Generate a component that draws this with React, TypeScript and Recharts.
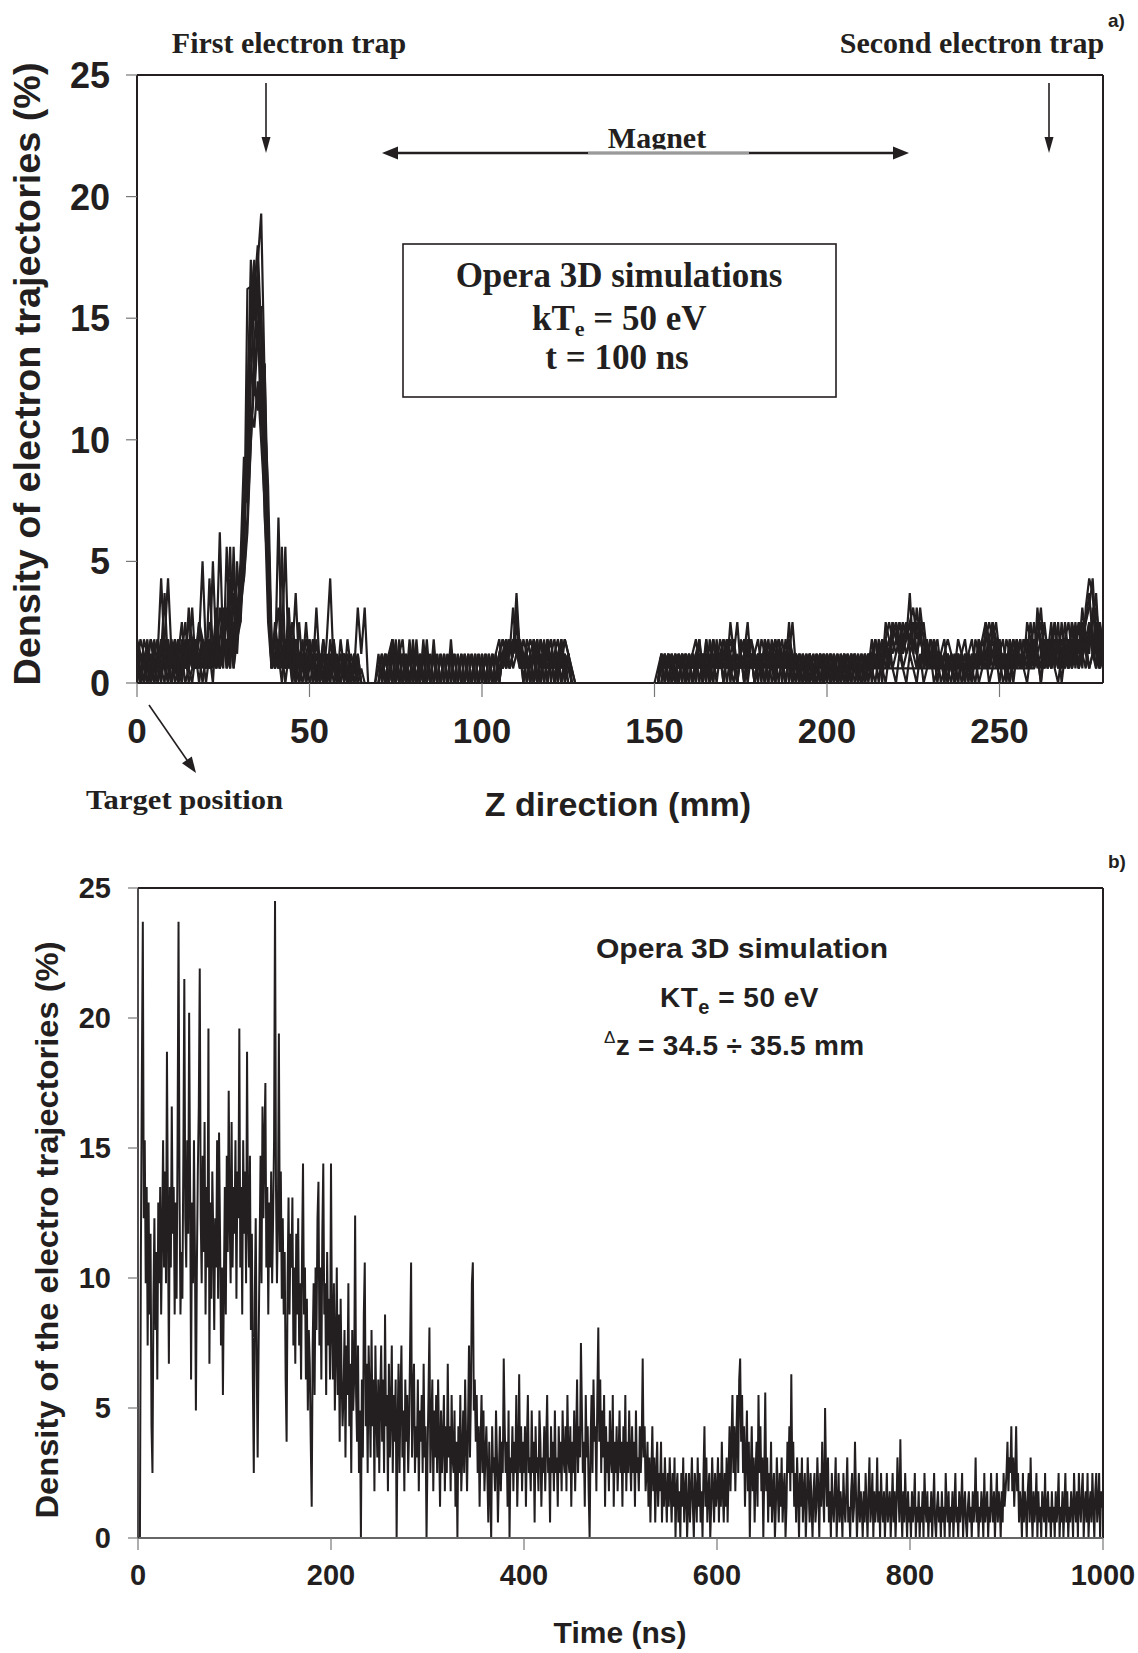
import React from 'react';
import { LineChart, Line, XAxis, YAxis, ReferenceLine } from 'recharts';

// ---------- Panel a: density vs Z (mm), several overlapping trajectory sets ----------
const zTicks = [0, 50, 100, 150, 200, 250];
const densityTicks = [0, 5, 10, 15, 20, 25];
const Z_STEP_MM = 1; // samples every 1 mm from 0 to 280 mm

const trace1 = [
  0,1.2,0.6,1.8,0,0.6,1.2,4.3,1.2,0.6,0,1.8,0.6,1.2,0,0.6,1.8,0.6,1.2,0.6,
  1.8,0.6,5.0,1.2,0.6,2.5,1.2,1.8,3.1,2.5,3.7,4.3,6.8,9.9,13.6,17.3,19.3,12.4,5.6,1.8,
  0.6,6.8,1.2,1.8,0.6,2.5,1.2,0.6,1.8,0,0.6,1.2,0.6,0,1.8,0.6,0,1.2,0.6,0,
  0.6,1.2,0,0.6,0,0,0,0,0,0,0,0.6,1.2,0,1.2,0,1.2,1.8,0,1.2,
  0,1.2,0,1.2,0,0,1.2,0,0,1.2,0,0,1.2,0,0,1.2,0,0,1.2,0,
  0,1.2,0,0,1.2,0,1.2,0.6,1.8,1.2,3.7,1.2,0.6,1.2,0,1.8,0,1.2,0,1.2,
  0.6,1.2,0,1.8,0.6,0,0,0,0,0,0,0,0,0,0,0,0,0,0,0,
  0,0,0,0,0,0,0,0,0,0,0,0,1.2,0,1.2,0.6,0,1.2,0,1.2,
  0.6,1.2,0,1.8,0.6,1.2,0,1.2,0.6,1.8,1.2,0.6,2.5,1.2,0.6,1.2,0,1.8,0.6,1.2,
  0,1.2,0.6,1.8,0.6,1.2,0,1.2,0.6,2.5,0.6,1.2,0.6,0,1.2,0.6,0,1.2,0.6,1.2,
  0.6,1.2,0,1.2,0.6,0,1.2,0.6,1.2,0,0.6,1.2,0.6,1.8,0.6,1.2,0,1.8,1.2,1.8,
  1.2,1.8,2.5,1.8,3.7,1.2,0.6,3.1,1.8,0.6,1.2,0.6,1.2,0,0.6,1.2,0.6,0,1.2,0.6,
  1.2,0.6,0,1.2,0.6,1.2,0.6,1.8,1.2,0.6,1.2,0,0.6,1.8,0.6,1.2,0.6,1.2,1.8,0.6,
  1.2,1.8,3.1,1.2,0.6,1.8,1.2,0.6,2.5,1.2,0.6,1.8,1.2,2.5,0.6,3.1,4.3,3.7,1.2,0.6,1.8,
];
const trace2 = [
  1.2,0.6,0,1.2,1.8,0.6,0,1.2,3.7,0.6,1.2,0,0.6,1.2,2.5,0.6,0,1.2,0.6,1.8,
  0.6,1.2,0,2.5,1.2,0.6,5.6,1.8,0.6,2.5,5.0,9.3,7.4,12.4,16.1,18.0,14.3,9.3,3.7,0.6,
  1.2,0.6,5.6,0.6,1.8,1.2,0,2.5,0.6,1.2,0,0.6,3.1,0.6,0,1.2,0.6,1.8,0,0.6,
  1.2,0,0.6,0,1.2,0,0,0,0,0,1.2,0,1.2,0,1.8,1.2,0,1.2,0,1.2,
  1.2,0,1.2,0,1.8,0,0,1.2,0,0,1.2,0,0,1.2,0,0,1.2,0,0,1.2,
  0,0,1.2,0,0,1.2,1.8,1.2,0.6,1.2,2.5,0.6,1.2,0,1.2,0,1.2,0,1.8,0,
  1.2,0,1.2,0,1.2,0.6,0,0,0,0,0,0,0,0,0,0,0,0,0,0,
  0,0,0,0,0,0,0,0,0,0,0,0,0.6,1.2,0,1.2,0,1.2,0.6,1.2,
  0,1.2,0.6,1.2,0,1.8,0.6,1.2,0,1.2,0.6,1.8,0,1.2,0.6,1.2,1.8,0.6,1.2,0,
  1.2,0.6,1.8,0,1.2,1.8,0.6,1.2,0,1.2,2.5,0.6,1.2,0,0.6,1.2,0,0.6,1.2,0,
  1.2,0.6,0,1.2,0.6,1.2,0,0.6,1.2,0.6,0,1.2,0.6,1.2,1.8,0.6,1.2,1.8,2.5,1.8,
  2.5,1.2,1.8,2.5,1.2,1.8,1.2,0.6,1.2,1.8,0.6,1.2,0,1.2,0.6,0,1.2,0.6,1.2,0,
  0.6,1.2,0.6,0,1.2,1.8,2.5,0.6,1.2,1.8,0.6,1.2,0,1.2,0.6,1.8,0.6,1.2,0.6,1.8,
  0.6,3.1,1.2,0.6,1.8,0.6,1.2,2.5,0.6,1.2,1.8,0.6,2.5,1.2,1.8,2.5,3.7,1.8,0.6,1.2,0.6,
];
const trace3 = [
  0.6,1.8,1.2,0,0.6,1.2,1.8,0.6,0,1.8,0.6,1.2,0,1.8,0.6,1.2,3.1,0.6,1.8,5.0,
  1.2,1.8,0.6,1.2,6.2,1.2,1.8,0.6,5.6,1.2,3.7,6.2,11.2,17.4,14.9,16.7,11.8,6.8,4.3,0.6,
  2.5,1.2,1.8,5.6,0.6,1.2,3.7,0.6,1.2,0,1.8,0.6,1.2,0.6,0,1.8,4.3,0.6,1.2,0,
  0,1.8,0.6,0,0,0,0,0,0,0,0,0,0,1.2,0,1.2,0,1.2,0,1.8,
  0,1.2,0,1.2,0,1.2,0,0,1.2,0,0,1.2,0,0,1.2,0,0,1.2,0,0,
  1.2,0,0,1.2,0,1.2,0.6,1.2,1.8,0.6,1.2,1.8,0,1.2,1.8,1.2,0,1.2,0.6,1.8,
  0,1.2,1.8,0.6,1.2,0,0,0,0,0,0,0,0,0,0,0,0,0,0,0,
  0,0,0,0,0,0,0,0,0,0,0,0,1.2,0,1.2,0.6,1.2,0,1.2,0.6,
  1.2,0,1.2,0.6,1.2,0.6,0,1.8,1.2,0.6,1.8,1.2,0.6,1.2,0,1.8,1.2,2.5,0.6,1.2,
  0.6,1.2,0,1.2,0.6,1.8,1.2,0.6,1.8,0.6,1.2,0,1.2,0.6,1.2,0,1.2,0.6,0,1.2,
  0,1.2,0.6,0,1.2,0.6,1.2,0,1.2,0.6,1.2,0,1.2,0.6,1.2,0.6,1.8,1.2,0.6,2.5,
  1.8,2.5,1.2,1.8,2.5,1.2,3.1,1.8,1.2,0.6,1.8,1.2,0.6,1.2,1.8,0.6,0,1.2,0.6,1.2,
  0,1.2,0.6,1.2,0.6,1.8,1.2,0.6,2.5,1.2,1.8,0.6,1.2,0.6,1.8,1.2,0.6,1.8,1.2,1.2,
  1.8,1.2,0.6,2.5,1.2,0.6,1.8,1.2,0.6,1.8,2.5,1.2,1.8,0.6,2.5,1.8,1.2,3.1,1.8,1.2,2.5,
];
const trace4 = [
  1.8,0,1.2,0.6,0,1.8,0.6,1.2,1.8,4.3,1.2,0.6,1.2,0,1.8,0.6,1.2,0.6,2.5,1.2,
  0.6,4.3,1.2,0.6,1.8,3.1,0.6,4.3,1.2,5.0,2.5,5.0,16.2,16.3,12.4,14.9,10.5,13.1,4.3,1.2,
  0.6,1.8,0.6,1.2,3.1,0.6,1.8,1.2,0.6,2.5,0.6,1.8,0,1.2,0.6,0,1.2,0.6,0,1.8,
  0.6,0,1.2,0.6,3.1,1.2,3.1,0,0,0,0.6,1.2,0,1.2,0,1.8,0,1.2,0,1.2,
  0,1.8,0,1.2,0,0,1.2,0,0,1.2,0,0,1.2,0,0,1.2,0,0,1.2,0,
  0,1.2,0,1.2,0,0,1.2,1.8,1.2,3.1,1.2,0.6,1.8,1.2,0,1.2,0,1.2,0,1.2,
  1.8,0,1.2,0.6,1.8,1.2,0,0,0,0,0,0,0,0,0,0,0,0,0,0,
  0,0,0,0,0,0,0,0,0,0,0,0.6,1.2,0.6,1.2,0,1.2,0.6,1.2,0,
  1.2,0.6,1.2,0,1.2,0.6,1.2,0,1.2,0.6,1.2,0.6,1.8,1.2,0.6,1.2,0.6,1.2,1.8,0.6,
  1.2,0,1.8,1.2,0.6,1.2,1.8,0.6,1.2,0,1.2,0.6,1.2,0.6,0,1.2,0.6,1.2,0,0.6,
  1.2,0,1.2,0.6,0,1.2,0.6,0,0.6,1.2,0.6,0,0.6,1.2,0.6,1.8,0.6,1.2,1.8,0.6,
  1.2,1.8,0.6,1.2,1.8,2.5,1.2,0.6,1.8,1.2,0.6,1.8,1.2,0.6,1.2,1.8,1.2,0.6,1.8,1.2,
  0.6,1.2,1.8,0.6,1.2,0.6,1.8,2.5,1.8,2.5,1.2,0.6,1.8,1.2,0.6,1.2,1.8,0.6,1.2,2.5,
  1.2,2.5,1.8,0.6,1.2,2.5,0.6,1.8,1.2,2.5,1.2,0.6,1.8,2.5,1.2,0.6,2.5,1.2,0.6,2.5,1.2,
];
const trace5 = [
  0.6,0,1.2,0.6,1.2,0,0.6,1.8,0.6,0,1.2,0.6,0,0.6,1.2,0,0.6,1.8,0.6,1.2,
  0,1.2,1.8,0.6,1.2,1.8,0.6,1.2,1.8,3.1,3.1,4.3,6.2,9.9,12.4,11.2,13.1,13.1,6.8,1.2,
  1.8,3.1,1.2,0.6,2.5,0.6,0,1.2,0.6,1.8,1.2,0,0.6,1.2,0,0.6,1.2,0,0.6,1.2,
  0,0.6,0,1.2,0,0,0,0,0,0,0,0,1.2,0,1.8,0,1.2,0,1.2,0,
  1.2,0,1.2,0,1.2,0,1.8,0,0,0,1.2,0,0,1.2,0,0,1.2,0,0,1.2,
  0,1.2,0,0,1.2,1.8,0.6,1.2,1.8,1.2,1.8,1.2,0,1.2,0.6,1.2,0,1.8,1.2,0.6,
  1.2,0.6,1.2,1.8,0.6,1.2,0,0,0,0,0,0,0,0,0,0,0,0,0,0,
  0,0,0,0,0,0,0,0,0,0,0,0,0.6,1.2,0,1.2,0.6,0,1.2,0.6,
  0,1.2,0.6,1.2,0,1.2,0.6,1.8,0.6,1.2,0,1.2,0.6,0,1.2,0.6,1.2,0,1.2,0.6,
  1.2,0.6,0,1.2,0.6,0,1.2,0.6,0,1.2,0.6,0,1.2,0.6,0,1.2,0.6,0,1.2,0.6,
  0,1.2,0.6,0,1.2,0.6,0,1.2,0.6,0.6,0.6,0.6,0.6,0.6,0.6,0.6,0.6,0.6,0.6,0.6,
  0.6,0.6,0.6,0.6,0.6,0.6,0.6,0.6,0.6,0.6,0.6,0.6,0.6,0.6,0.6,0.6,0.6,0.6,0.6,0.6,
  0.6,0.6,0.6,0.6,0.6,0.6,0.6,0.6,0.6,0.6,0.6,0.6,0.6,0.6,0.6,0.6,0.6,0.6,0.6,0.6,
  0.6,1.2,0,1.2,0.6,1.8,0.6,0,1.2,0.6,1.8,0.6,1.2,0.6,1.8,1.2,0.6,1.2,2.5,0.6,1.2,
];
const trace6 = [
  0,1.2,0.6,0,1.2,0.6,1.2,0,1.2,0.6,1.8,0.6,1.2,2.5,0.6,3.1,1.2,0.6,1.2,0,
  1.2,0.6,1.2,3.1,0.6,1.2,2.5,5.6,0.6,1.8,2.5,7.4,8.7,11.2,10.5,12.4,9.9,7.4,2.5,0.6,
  1.2,0.6,1.2,0,1.2,1.8,0.6,0,1.2,0.6,1.2,0,1.2,0.6,1.8,0,0.6,1.2,0,0.6,
  1.2,0.6,0,0.6,1.2,0,0,0,0,0,0,1.2,0,1.2,1.8,0,1.2,0,1.2,0,
  0,0,1.2,0,1.2,0,0,0,1.2,0,0,1.8,0,0,1.2,0,0,1.2,0,0,
  1.2,0,1.2,0,0,1.2,0.6,1.8,0.6,1.2,1.8,0.6,1.2,0,1.2,0,1.8,0.6,1.2,0,
  1.2,0,0.6,1.2,0.6,1.2,0.6,0,0,0,0,0,0,0,0,0,0,0,0,0,
  0,0,0,0,0,0,0,0,0,0,0,0,1.2,0,1.2,0,1.2,0,1.2,0,
  1.2,0,0.6,1.2,0,1.2,0.6,0,1.8,0.6,1.2,0,1.2,0.6,0,1.2,0,0.6,1.2,0,
  0.6,1.2,0,1.2,0,0.6,1.2,0,1.2,0.6,0,1.2,0.6,0,1.2,0,0.6,1.2,0,1.2,
  0.6,0,1.2,0,0.6,1.2,0,1.2,0,0.6,1.2,0,1.2,0.6,0,1.2,0.6,0,1.2,0.6,
  0,1.2,0.6,0,1.2,0.6,0,1.2,0,0.6,1.2,0,0.6,1.2,0,1.2,0.6,0,1.2,0.6,
  0,1.2,0.6,1.2,0,0.6,1.2,0,0.6,1.2,0,1.2,0.6,0,1.2,0.6,1.8,0.6,0,1.2,
  0.6,1.2,0,1.8,1.2,0.6,1.2,1.8,0,1.2,0.6,1.8,1.2,0.6,1.2,1.8,0.6,1.2,1.8,0.6,1.2,
];
const trace7 = [
  1.2,0,1.8,1.2,0.6,0,1.2,0.6,1.8,1.2,0.6,1.2,1.8,0.6,1.2,2.5,1.8,0.6,1.2,1.8,
  0.6,1.8,1.2,2.5,0.6,1.8,3.1,1.2,2.5,1.8,4.3,7.4,10.5,14.3,16.8,15.5,12.4,10.5,6.8,1.2,
  0.6,1.2,0,1.8,1.2,0.6,1.2,0,0.6,1.2,1.8,0,1.2,0.6,1.2,0,1.8,0.6,0,1.2,
  0.6,1.2,0,0,0.6,0,0,0,0,0,0,0,1.2,0,1.2,0,1.8,0,1.2,0,
  1.8,0,1.2,0,1.2,0,0,1.2,0,0,0,1.2,0,0,1.2,0,0,1.2,0,0,
  1.2,0,0,1.2,0,0.6,1.2,1.8,0.6,1.2,1.8,1.2,0.6,1.2,0,1.2,1.8,0,1.2,0.6,
  1.2,1.8,0.6,1.2,0,1.2,0.6,0,0,0,0,0,0,0,0,0,0,0,0,0,
  0,0,0,0,0,0,0,0,0,0,0,0,0,1.2,0,1.2,0,1.2,0.6,1.2,
  0.6,1.2,1.8,0.6,1.2,0,1.8,0.6,1.2,0.6,1.2,1.8,0.6,1.2,2.5,0.6,1.2,0.6,1.8,1.2,
  0.6,1.8,1.2,0.6,1.2,0,1.2,1.8,0.6,1.2,0,1.2,0.6,1.2,0,1.2,0.6,0,1.2,0.6,
  1.2,0,0.6,1.2,0,0.6,1.2,0,1.2,0.6,0.6,1.2,0,1.2,0.6,1.2,1.8,0.6,1.2,2.5,
  1.8,2.5,1.8,1.2,1.8,1.2,2.5,1.8,1.2,0.6,1.2,1.8,0.6,1.2,0,1.2,0.6,1.2,0,1.2,
  0.6,1.2,0,1.8,1.2,0.6,2.5,1.8,0.6,1.2,1.8,0.6,1.2,0,1.2,1.8,0.6,1.2,0.6,1.2,
  2.5,1.2,1.8,0.6,1.2,1.8,2.5,1.2,1.8,0.6,1.2,2.5,0.6,1.8,1.2,2.5,3.1,4.3,1.8,2.5,1.2,
];
const trace8 = [
  0.6,1.2,0,0.6,1.8,1.2,0,0.6,1.2,0,1.2,1.8,0.6,0,1.2,0.6,1.8,1.2,0,1.2,
  1.8,0.6,1.2,1.8,0.6,2.5,1.2,0.6,3.7,1.8,3.1,5.6,9.3,13.1,11.8,14.3,15.5,8.7,4.3,0.6,
  1.8,0.6,1.2,0.6,1.8,0,1.2,0.6,0,1.2,0.6,1.8,0,0.6,1.2,0,0.6,1.2,0,0.6,
  1.2,0,0.6,1.2,0,0.6,0,0,0,0,0,1.2,0,1.2,0,1.2,0,1.2,0,1.2,
  0,1.2,0,1.8,0,1.2,0,0,1.2,0,0,1.2,0,0,0,1.2,0,0,1.2,0,
  0,1.2,0,1.2,0,1.2,1.8,0.6,1.2,1.8,1.2,1.8,1.2,0.6,1.2,1.8,1.2,0,1.2,1.8,
  0.6,1.2,0,1.2,1.8,1.2,0,0,0,0,0,0,0,0,0,0,0,0,0,0,
  0,0,0,0,0,0,0,0,0,0,0,0,1.2,0.6,1.2,0,1.2,0.6,1.2,0,
  1.2,0.6,1.2,1.8,0,1.2,0.6,1.8,0.6,1.2,1.8,0.6,1.2,1.8,0.6,1.2,0.6,1.8,0.6,1.2,
  1.8,0.6,1.2,0,1.2,0.6,1.8,1.2,0.6,1.8,1.2,0.6,0,1.2,0.6,1.2,0,0.6,1.2,0,
  0.6,1.2,0.6,0,1.2,0,0.6,1.2,0.6,0,1.2,0.6,1.2,0,1.8,1.2,0.6,2.5,1.8,1.2,
  1.8,1.2,2.5,1.8,2.5,3.1,1.8,2.5,0.6,1.2,1.8,0.6,1.2,0.6,1.2,0,1.2,0.6,0,1.2,
  1.8,0.6,1.2,0.6,1.8,0.6,1.2,1.8,2.5,1.8,0.6,1.2,0.6,1.8,0,1.2,0.6,1.8,1.2,0.6,
  1.8,0.6,1.2,1.8,0.6,1.2,1.8,0.6,1.2,1.8,0.6,1.2,1.8,0.6,2.5,1.2,1.8,2.5,3.7,1.2,1.8,
];
const trace9 = [
  1.8,1.2,0.6,1.2,0,1.2,1.8,0.6,1.2,1.8,0,0.6,1.8,1.2,0.6,1.8,0.6,1.2,2.5,1.8,
  1.2,2.5,1.8,0.6,3.1,1.8,1.2,2.5,4.3,3.1,4.3,5.0,11.8,15.5,17.4,13.7,14.9,11.2,8.1,1.8,
  0.6,1.2,2.5,0.6,1.2,0,1.8,0.6,1.2,0,1.2,0.6,1.8,0,1.2,0.6,0,1.8,0.6,0,
  1.2,0.6,0,1.2,0.6,0,0,0,0,0,0,0,1.2,0,1.8,0,0,1.2,0,1.2,
  0,1.2,0,0,1.2,0,1.2,0,0,1.2,0,0,1.2,0,0,0,1.2,0,0,1.2,
  0,0,1.2,0,1.2,0,1.2,0.6,1.8,1.2,3.1,1.2,0.6,1.8,1.2,0,1.2,1.8,0.6,1.2,
  1.8,0.6,1.2,0,0.6,1.2,0,0,0,0,0,0,0,0,0,0,0,0,0,0,
  0,0,0,0,0,0,0,0,0,0,0,0,0,1.2,0.6,1.2,0,1.2,0,1.2,
  0.6,1.2,0,1.2,0.6,1.8,0,1.2,0.6,1.2,0,1.8,0.6,1.2,0,1.2,1.8,0.6,1.2,0,
  1.2,0.6,1.2,0.6,1.8,0,1.2,0.6,1.2,1.8,0.6,1.2,0,1.2,0.6,0,1.2,0.6,1.2,0,
  1.2,0.6,1.2,0,0.6,1.2,0,1.2,0.6,1.2,0,0.6,1.2,0.6,1.2,0,1.2,1.8,0.6,1.8,
  2.5,1.8,1.2,2.5,1.8,2.5,1.2,1.8,2.5,1.2,0.6,1.2,1.8,0.6,1.2,0.6,1.2,0,1.2,0.6,
  1.2,0,1.2,0.6,1.8,1.2,0.6,1.2,1.8,0.6,1.2,1.8,0.6,1.2,1.8,0.6,1.2,0.6,2.5,1.8,
  0.6,1.8,2.5,1.2,1.8,0.6,2.5,1.2,1.8,1.2,0.6,2.5,1.8,1.2,3.1,1.8,2.5,1.2,3.1,1.8,0.6,
];
const traces = [trace1, trace2, trace3, trace4, trace5, trace6, trace7, trace8, trace9];
const traceKeys = ['t1', 't2', 't3', 't4', 't5', 't6', 't7', 't8', 't9'];

const zRows = trace1.map((_, i) => {
  const row: Record<string, number> = { z: i * Z_STEP_MM };
  traces.forEach((tr, k) => { row[traceKeys[k]] = tr[i]; });
  return row;
});

// ---------- Panel b: density vs time (ns) at z = 34.5 - 35.5 mm, 1 ns samples ----------
const timeTicks = [0, 200, 400, 600, 800, 1000];
const T_STEP_NS = 1;
const t0000 = [0,0,0,11.0,17.8,23.7,12.3,15.3,9.8,13.5,7.4,12.9,8.6,11.7,4.3,2.5,9.2,12.3,8.0,11.0,6.1,12.9,9.8,13.5,8.6,11.7,15.3,10.4,14.1,9.8,18.7,12.3,6.7,13.5,10.4,16.6,11.7,13.5,8.6,12.9,9.2,15.3,23.7,13.5,8.6,11.0,9.2,14.7,21.5,12.3];
const t0050 = [10.4,15.3,11.7,20.2,13.5,6.1,12.9,9.8,15.3,11.0,4.9,10.4,14.1,16.6,21.9,12.3,9.8,14.7,11.0,16.0,8.6,13.5,10.4,19.6,6.7,12.9,9.2,14.1,11.7,8.0,12.3,10.4,15.3,9.2,15.6,11.7,7.4,10.4,5.5,9.8,13.5,8.6,14.7,11.0,17.2,12.3,9.8,16.0,10.4,13.5];
const t0100 = [11.7,15.3,9.2,14.1,12.3,19.6,10.4,13.5,8.6,15.3,11.7,14.1,9.8,18.7,12.3,10.4,14.7,8.0,11.7,6.1,2.5,9.2,12.3,6.7,3.1,7.4,11.0,14.7,9.8,16.6,12.3,15.3,17.5,10.4,13.5,8.6,12.9,10.4,14.1,9.8,12.3,15.3,24.5,13.5,9.8,12.3,19.4,11.0,14.1,9.2];
const t0150 = [12.3,8.6,11.0,6.1,3.7,9.8,13.1,8.6,11.7,10.4,13.1,7.4,10.4,6.7,11.7,8.6,12.3,7.4,9.8,6.1,11.0,14.4,8.6,10.4,6.1,9.2,4.9,8.0,6.7,3.7,1.2,7.4,9.8,5.5,10.4,8.0,12.3,13.7,7.4,10.4,6.1,11.7,14.4,8.6,9.8,5.5,11.0,7.4,9.2,6.1];
const t0200 = [14.4,8.0,6.1,9.8,4.9,7.4,10.4,5.5,8.6,3.7,9.2,6.1,4.3,5.6,8.0,3.1,7.4,5.5,9.8,4.3,6.7,2.5,8.0,4.9,6.1,12.4,5.5,3.7,7.4,2.5,4.9,0,6.1,3.1,8.6,10.6,4.3,6.7,2.5,7.4,5.5,3.1,8.0,4.3,6.1,1.8,7.4,4.9,3.1,6.1];
const t0250 = [2.5,5.5,7.4,3.7,6.1,2.5,8.6,4.3,5.5,1.8,6.7,3.1,4.9,7.4,2.5,5.5,3.7,6.1,0,4.3,6.7,2.5,5.5,7.4,3.1,4.9,1.8,6.1,3.7,5.5,2.5,4.3,7.4,10.6,3.1,5.5,6.7,2.5,4.3,3.1,6.1,1.8,4.9,3.7,5.5,2.5,6.7,3.1,4.3,0];
const t0300 = [3.1,5.5,8.1,2.5,4.3,6.1,1.8,4.9,3.1,5.5,2.5,6.1,3.7,1.2,4.9,2.5,3.7,5.5,1.8,4.3,2.5,6.7,3.1,4.3,1.8,5.5,3.1,2.5,4.9,1.2,3.7,0,4.3,2.5,5.5,1.8,3.1,4.9,2.5,6.1,3.7,1.8,4.3,7.4,3.1,5.5,9.8,10.6,4.9,6.1];
const t0350 = [3.7,5.5,2.5,4.3,1.2,3.7,5.5,2.5,4.9,1.8,3.1,4.3,2.5,0.6,3.7,1.8,0,4.3,2.5,3.1,1.8,4.9,3.1,0.6,2.5,4.3,1.8,3.7,2.5,6.9,4.3,2.5,3.7,1.2,4.9,0,3.1,2.5,4.3,1.8,3.7,2.5,5.5,1.2,3.1,6.3,2.5,4.3,1.8,3.7];
const t0400 = [2.5,4.3,1.2,3.7,5.5,2.5,3.1,1.8,4.9,2.5,3.7,0.6,4.3,2.5,3.1,1.8,4.9,3.7,1.2,3.1,2.5,4.3,1.8,3.7,5.5,2.5,3.1,0.6,4.3,2.5,3.7,1.8,4.9,2.5,3.1,1.2,4.3,2.5,3.7,1.8,4.9,3.1,2.5,4.3,1.8,5.5,3.1,2.5,4.3,1.2];
const t0450 = [3.7,2.5,4.9,1.8,3.7,6.1,2.5,4.3,3.1,7.5,4.9,2.5,3.7,1.2,5.5,3.1,4.3,1.8,0,3.7,5.5,2.5,6.1,3.7,4.3,1.8,5.5,8.1,3.7,6.1,2.5,4.9,3.1,5.5,1.2,4.3,2.5,3.7,1.8,4.9,3.1,2.5,5.5,1.2,3.7,2.5,4.3,1.8,3.1,4.9];
const t0500 = [2.5,3.7,1.2,4.3,2.5,5.5,1.8,3.7,2.5,4.9,3.1,1.8,4.3,2.5,3.7,1.2,4.9,2.5,3.1,1.8,4.3,2.5,3.7,6.9,3.1,4.3,1.8,2.5,3.7,1.2,3.1,0.6,2.5,4.3,1.8,3.1,0.6,2.5,3.7,1.2,2.5,1.8,3.7,0.6,2.5,1.2,3.1,1.8,0.6,2.5];
const t0550 = [1.2,3.1,1.8,0.6,2.5,1.2,3.1,0,1.8,2.5,0.6,1.8,0,2.5,1.2,3.1,0.6,1.8,2.5,0,1.2,2.5,0.6,1.8,3.1,1.2,0,2.5,1.8,0.6,3.1,1.2,2.5,0.6,1.8,0,2.5,4.3,1.2,3.1,0.6,1.8,2.5,0,1.2,3.1,1.8,0.6,2.5,1.2];
const t0600 = [1.8,3.1,0.6,2.5,1.2,3.7,1.8,0.6,2.5,1.2,3.1,0.6,2.5,4.3,1.8,3.7,5.5,2.5,4.3,1.8,3.7,5.5,2.5,6.1,6.9,3.7,5.5,2.5,4.3,1.2,3.1,4.9,1.8,3.7,0,2.5,4.3,1.8,3.1,0.6,2.5,3.7,1.2,5.5,2.5,4.3,1.8,3.1,0,2.5];
const t0650 = [5.6,1.8,3.1,0.6,2.5,1.2,3.7,0.6,1.8,2.5,0,1.2,3.1,1.8,0.6,2.5,1.2,3.1,0.6,1.8,2.5,0,1.2,3.7,2.5,4.3,1.8,6.3,2.5,3.7,1.2,2.5,0.6,3.1,1.8,0,2.5,1.2,3.1,0.6,1.8,2.5,0,1.2,3.1,1.8,0.6,2.5,1.2,0];
const t0700 = [1.8,2.5,0.6,1.2,3.1,1.8,0,2.5,1.2,3.7,1.8,0.6,5.0,2.5,1.2,3.1,0.6,1.8,0,2.5,1.2,0.6,1.8,3.1,0,1.2,2.5,0.6,1.8,1.2,0,2.5,1.2,0.6,1.8,3.1,0.6,1.2,0,1.8,2.5,0.6,1.2,3.7,1.8,0,1.2,2.5,0.6,1.8];
const t0750 = [1.2,0,1.8,0.6,2.5,1.2,0,1.8,3.1,0.6,1.2,2.5,0,1.8,0.6,1.2,3.1,0.6,1.8,0,2.5,1.2,0.6,1.8,0,1.2,2.5,0.6,1.2,1.8,0,1.2,2.5,0.6,1.8,0,1.2,3.1,1.8,0.6,3.8,1.2,0,1.8,0.6,2.5,1.2,0,1.8,0.6];
const t0800 = [1.2,0,1.8,0.6,1.2,2.5,0,1.2,0.6,1.8,0,1.2,0.6,1.8,0,2.5,1.2,0.6,1.8,0,1.2,0.6,1.8,0,1.2,2.5,0.6,0,1.2,1.8,0.6,1.2,0,1.8,0.6,1.2,0,2.5,1.2,0.6,1.8,0,1.2,0.6,1.8,0,1.2,2.5,0.6,1.2];
const t0850 = [0,1.8,0.6,1.2,2.5,0,1.2,1.8,0.6,0,1.2,1.8,0.6,1.2,0,1.8,0.6,1.2,3.1,0.6,1.8,0,1.2,0.6,1.8,1.2,0,2.5,0.6,1.2,1.8,0,1.2,0.6,2.5,1.2,0.6,1.8,0,1.2,2.5,0.6,1.8,1.2,0,1.8,0.6,2.5,1.2,1.8];
const t0900 = [2.5,3.7,1.8,3.1,2.5,4.3,1.8,3.1,1.2,2.5,4.3,1.8,2.5,0.6,1.8,1.2,0,2.5,0.6,1.8,1.2,0,1.8,2.5,0.6,3.1,1.2,0,1.8,0.6,1.2,2.5,0,1.8,0.6,1.2,0,1.8,1.2,0.6,2.5,0,1.2,1.8,0.6,1.2,0,1.8,0.6,1.2];
const t0950 = [0,1.8,0.6,1.2,2.5,0,1.2,0.6,1.8,0,1.2,2.5,0.6,1.8,0,1.2,0.6,1.8,1.2,0,2.5,1.2,0.6,1.8,0,2.5,1.2,0.6,1.8,2.5,0,1.2,1.8,0.6,2.5,0,1.2,1.8,0.6,2.5,1.2,0,1.8,2.5,0.6,1.2,2.5,0,1.8,1.2,1.2];
const timeBlocks = [t0000, t0050, t0100, t0150, t0200, t0250, t0300, t0350, t0400, t0450,
  t0500, t0550, t0600, t0650, t0700, t0750, t0800, t0850, t0900, t0950];
const tRows = timeBlocks.flatMap((block, b) => block.map((v, i) => ({ t: b * 50 + i * T_STEP_NS, v })));

// ---------- styling ----------
const INK = '#231f20';
const SANS = 'Liberation Sans, Arial, Helvetica, sans-serif';
const SERIF = 'Liberation Serif, Times New Roman, serif';

const YTickA = (props: any) => (
  <text x={110} y={props.y} dy="0.36em" textAnchor="end" fontFamily={SANS} fontWeight="bold" fontSize={36} fill={INK}>
    {props.payload.value}
  </text>
);
const XTickA = (props: any) => (
  <text x={props.x} y={743} textAnchor="middle" fontFamily={SANS} fontWeight="bold" fontSize={35} fill={INK}>
    {props.payload.value}
  </text>
);
const YTickB = (props: any) => (
  <text x={111} y={props.y} dy="0.36em" textAnchor="end" fontFamily={SANS} fontWeight="bold" fontSize={29} fill={INK}>
    {props.payload.value}
  </text>
);
const XTickB = (props: any) => (
  <text x={props.x} y={745} textAnchor="middle" fontFamily={SANS} fontWeight="bold" fontSize={29} fill={INK}>
    {props.payload.value}
  </text>
);

const Overlay = () => (
  <svg width={1138} height={1653} style={{ position: 'absolute', left: 0, top: 0, pointerEvents: 'none' }}>
    {/* ----- panel a annotations ----- */}
    <text x={289} y={53} textAnchor="middle" fontFamily={SERIF} fontWeight="bold" fontSize={30} fill={INK}>First electron trap</text>
    <text x={972} y={53} textAnchor="middle" fontFamily={SERIF} fontWeight="bold" fontSize={30} fill={INK}>Second electron trap</text>
    <text x={1108} y={27} fontFamily={SANS} fontWeight="bold" fontSize={19} fill={INK}>a)</text>

    <line x1={266} y1={83} x2={266} y2={140} stroke={INK} strokeWidth={1.6} />
    <polygon points="261.5,137 270.5,137 266,153" fill={INK} />
    <line x1={1049} y1={83} x2={1049} y2={140} stroke={INK} strokeWidth={1.6} />
    <polygon points="1044.5,137 1053.5,137 1049,153" fill={INK} />

    <text x={657} y={148} textAnchor="middle" fontFamily={SERIF} fontWeight="bold" fontSize={30} fill={INK}>Magnet</text>
    <rect x={600} y={149.5} width={115} height={4} fill="#fff" />
    <line x1={394} y1={153} x2={897} y2={153} stroke={INK} strokeWidth={2.6} />
    <line x1={588} y1={153} x2={749} y2={153} stroke="#9a9a9a" strokeWidth={2.6} />
    <polygon points="382,153 398,146.5 398,159.5" fill={INK} />
    <polygon points="909,153 893,146.5 893,159.5" fill={INK} />

    <rect x={403} y={244} width={433} height={153} fill="#fff" stroke={INK} strokeWidth={1.6} />
    <text x={619} y={287} textAnchor="middle" fontFamily={SERIF} fontWeight="bold" fontSize={35} fill={INK}>Opera 3D simulations</text>
    <text x={532} y={330} fontFamily={SERIF} fontWeight="bold" fontSize={35} fill={INK}>
      kT<tspan fontSize={22} dy={6}>e</tspan><tspan dy={-6}> = 50 eV</tspan>
    </text>
    <text x={617} y={369} textAnchor="middle" fontFamily={SERIF} fontWeight="bold" fontSize={35} fill={INK}>t = 100 ns</text>

    <line x1={149} y1={705} x2={189} y2={763} stroke={INK} strokeWidth={1.6} />
    <polygon points="182,763.2 191.8,756.4 196,773" fill={INK} />
    <text x={86} y={809} textLength={197} lengthAdjust="spacingAndGlyphs" fontFamily={SERIF} fontWeight="bold" fontSize={27} fill={INK}>Target position</text>

    <text x={618} y={816} textAnchor="middle" fontFamily={SANS} fontWeight="bold" fontSize={34} fill={INK}>Z direction (mm)</text>
    <text x={40} y={374} transform="rotate(-90 40 374)" textAnchor="middle" textLength={623} lengthAdjust="spacingAndGlyphs"
      fontFamily={SANS} fontWeight="bold" fontSize={36} fill={INK}>Density of electron trajectories (%)</text>

    {/* ----- panel b annotations ----- */}
    <text x={1108} y={868} fontFamily={SANS} fontWeight="bold" fontSize={19} fill={INK}>b)</text>
    <text x={742} y={958} textAnchor="middle" textLength={292} lengthAdjust="spacingAndGlyphs" fontFamily={SANS} fontWeight="bold" fontSize={27} fill={INK}>Opera 3D simulation</text>
    <text x={660} y={1007} fontFamily={SANS} fontWeight="bold" fontSize={28} fill={INK} letterSpacing={0.5}>
      KT<tspan fontSize={20} dy={7}>e</tspan><tspan dy={-7}> = 50 eV</tspan>
    </text>
    <text x={604} y={1055} fontFamily={SANS} fontWeight="bold" fontSize={28} fill={INK} letterSpacing={0.3}>
      <tspan fontSize={17} fontWeight="normal" dy={-12}>Δ</tspan><tspan dy={12}>z = 34.5 ÷ 35.5 mm</tspan>
    </text>
    <text x={620} y={1643} textAnchor="middle" fontFamily={SANS} fontWeight="bold" fontSize={30} fill={INK}>Time (ns)</text>
    <text x={58} y={1230} transform="rotate(-90 58 1230)" textAnchor="middle" textLength={577} lengthAdjust="spacingAndGlyphs"
      fontFamily={SANS} fontWeight="bold" fontSize={32} fill={INK}>Density of the electro trajectories (%)</text>
  </svg>
);

export default function App() {
  return (
    <div style={{ position: 'absolute', left: 0, top: 0, width: 1138, height: 1653, background: '#fff', overflow: 'hidden' }}>
      <div style={{ position: 'absolute', left: 0, top: 0 }}>
        <LineChart width={1138} height={840} data={zRows} margin={{ top: 75, right: 35, bottom: 97, left: 0 }}>
          <XAxis dataKey="z" type="number" domain={[0, 280]} ticks={zTicks} allowDataOverflow
            height={60} tickSize={14} tick={<XTickA />} axisLine={{ stroke: INK, strokeWidth: 2 }}
            tickLine={{ stroke: '#777', strokeWidth: 1.2 }} interval={0} />
          <YAxis type="number" domain={[0, 25]} ticks={densityTicks} allowDataOverflow width={137}
            tickSize={11} tick={<YTickA />} axisLine={{ stroke: INK, strokeWidth: 2 }}
            tickLine={{ stroke: '#777', strokeWidth: 1.2 }} interval={0} />
          <ReferenceLine y={25} stroke={INK} strokeWidth={2} />
          <ReferenceLine x={280} stroke={INK} strokeWidth={2} />
          {traceKeys.map((k) => (
            <Line key={k} dataKey={k} type="linear" stroke={INK} strokeWidth={2.2} dot={false} activeDot={false}
              isAnimationActive={false} />
          ))}
        </LineChart>
      </div>
      <div style={{ position: 'absolute', left: 0, top: 840 }}>
        <LineChart width={1138} height={813} data={tRows} margin={{ top: 48, right: 35, bottom: 55, left: 0 }}>
          <XAxis dataKey="t" type="number" domain={[0, 1000]} ticks={timeTicks} allowDataOverflow
            height={60} tickSize={12} tick={<XTickB />} axisLine={{ stroke: '#666', strokeWidth: 2 }}
            tickLine={{ stroke: '#777', strokeWidth: 1.2 }} interval={0} />
          <YAxis type="number" domain={[0, 25]} ticks={densityTicks} allowDataOverflow width={138}
            tickSize={10} tick={<YTickB />} axisLine={{ stroke: INK, strokeWidth: 1.6 }}
            tickLine={{ stroke: '#777', strokeWidth: 1.2 }} interval={0} />
          <ReferenceLine y={25} stroke={INK} strokeWidth={2} />
          <ReferenceLine x={1000} stroke={INK} strokeWidth={2} />
          <Line dataKey="v" type="linear" stroke={INK} strokeWidth={2} dot={false} activeDot={false}
            isAnimationActive={false} />
        </LineChart>
      </div>
      <Overlay />
    </div>
  );
}
